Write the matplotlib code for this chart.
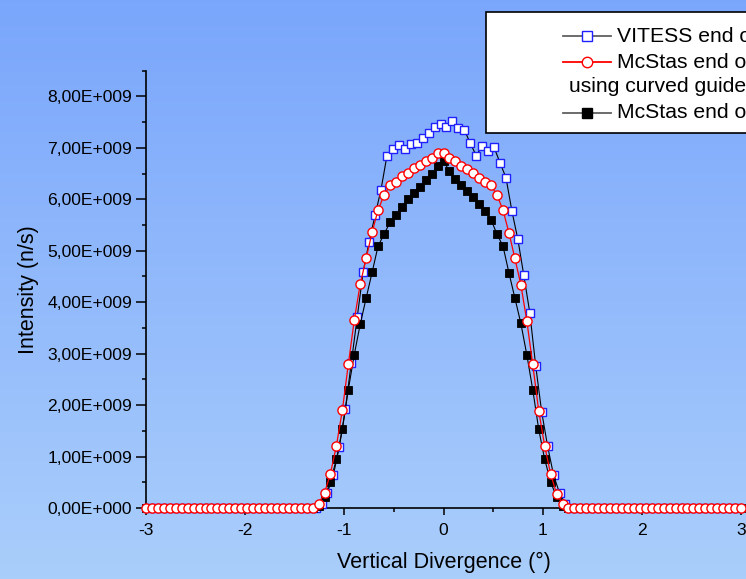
import numpy as np
import matplotlib
matplotlib.use("Agg")
import matplotlib.pyplot as plt
from matplotlib.ticker import MultipleLocator, FuncFormatter
from matplotlib.lines import Line2D
from matplotlib.patches import Rectangle

plt.rcParams['font.family'] = ['Liberation Sans', 'DejaVu Sans']

SCALE = 1e9  # intensities below are given in units of 1e9 n/s

# McStas runs: sampled at -3.00, -2.94, ..., 3.00 deg
x_mcstas = np.round(np.linspace(-3.0, 3.0, 101), 2)
# VITESS run: bin centres -2.97, -2.91, ..., 2.97 deg
x_vitess = np.round(np.linspace(-2.97, 2.97, 100), 2)

# VITESS end of guide, -1.23 ... 1.23 deg (zero outside)
vitess_core = [0.08, 0.30, 0.65, 1.19, 1.92, 2.82, 3.71, 4.59, 5.18, 5.69,
               6.19, 6.85, 6.97, 7.06, 6.98, 7.08, 7.10, 7.19, 7.28, 7.40,
               7.47, 7.40, 7.53, 7.38, 7.35, 7.09, 6.85, 7.03, 6.94, 7.01,
               6.71, 6.42, 5.77, 5.22, 4.52, 3.80, 2.76, 1.87, 1.20, 0.64,
               0.29, 0.08]
vitess = [0.0] * 29 + vitess_core + [0.0] * 29

# McStas end of guide, curved guide, -1.26 ... 1.20 deg (zero outside)
mcstas_curved_core = [0.08, 0.29, 0.67, 1.21, 1.90, 2.79, 3.65, 4.35, 4.85, 5.36,
                      5.79, 6.08, 6.27, 6.34, 6.45, 6.52, 6.60, 6.67, 6.74, 6.81,
                      6.90, 6.90, 6.81, 6.74, 6.65, 6.58, 6.51, 6.42, 6.34, 6.27,
                      6.08, 5.79, 5.35, 4.85, 4.34, 3.64, 2.79, 1.89, 1.21, 0.66,
                      0.28, 0.08]
mcstas_curved = [0.0] * 29 + mcstas_curved_core + [0.0] * 30

# McStas end of guide, -1.26 ... 1.20 deg (zero outside)
mcstas_core = [0.04, 0.21, 0.51, 0.95, 1.53, 2.30, 2.98, 3.57, 4.08, 4.58,
               5.09, 5.32, 5.55, 5.70, 5.86, 6.01, 6.13, 6.24, 6.37, 6.50,
               6.64, 6.74, 6.55, 6.40, 6.28, 6.17, 6.05, 5.91, 5.77, 5.60,
               5.32, 5.09, 4.57, 4.08, 3.59, 2.98, 2.30, 1.53, 0.95, 0.51,
               0.21, 0.04]
mcstas = [0.0] * 29 + mcstas_core + [0.0] * 30

labels = ["VITESS end of guide",
          "McStas end of guide",
          "using curved guides",
          "McStas end of guide"]

W, H = 746, 579
fig = plt.figure(figsize=(W / 100, H / 100), dpi=100)

# vertical blue gradient behind everything
bg = fig.add_axes([0, 0, 1, 1], zorder=-10)
top = np.array([0.478, 0.651, 0.988])
bot = np.array([0.667, 0.808, 0.984])
t = np.linspace(0, 1, 256)[:, None]
grad = top[None, :] * (1 - t) + bot[None, :] * t
bg.imshow(grad[:, None, :], aspect='auto', extent=[0, 1, 0, 1], interpolation='bilinear')
bg.axis('off')

def fx(px):
    return px / W

def fy(py):
    return 1 - py / H

ax = fig.add_axes([fx(146), fy(508), (741 - 146) / W, (508 - 70.7) / H])
ax.patch.set_alpha(0)

ax.plot(x_vitess, np.array(vitess) * SCALE, color='black', lw=0.8,
        marker='s', ms=5.8, mfc='white', mec='#1f1fff', mew=1.0,
        clip_on=False, zorder=3)
ax.plot(x_mcstas, np.array(mcstas) * SCALE, color='black', lw=0.8,
        marker='s', ms=6.0, mfc='black', mec='black', mew=0.6,
        clip_on=False, zorder=4)
ax.plot(x_mcstas, np.array(mcstas_curved) * SCALE, color='red', lw=0.9,
        marker='o', ms=6.6, mfc='white', mec='red', mew=1.0,
        clip_on=False, zorder=5)

ax.set_xlim(-3, 3)
ax.set_ylim(0, 8.5e9)
ax.xaxis.set_major_locator(MultipleLocator(1))
ax.xaxis.set_minor_locator(MultipleLocator(0.5))
ax.yaxis.set_major_locator(MultipleLocator(1e9))
ax.yaxis.set_minor_locator(MultipleLocator(0.5e9))

def sci_comma(v, pos):
    if v == 0:
        return "0,00E+000"
    e = int(np.floor(np.log10(abs(v))))
    m = v / 10 ** e
    return f"{m:.2f}E{e:+04d}".replace('.', ',')

def plain(v, pos):
    return f"{v:g}"

ax.yaxis.set_major_formatter(FuncFormatter(sci_comma))
ax.xaxis.set_major_formatter(FuncFormatter(plain))

for s in ('top', 'right'):
    ax.spines[s].set_visible(False)
for s in ('left', 'bottom'):
    ax.spines[s].set_linewidth(1.2)
    ax.spines[s].set_color('black')

ax.tick_params(which='both', direction='out', width=1.1, colors='black',
               labelsize=12.6)
ax.tick_params(axis='y', which='major', length=7, pad=3)
ax.tick_params(axis='x', which='major', length=5, pad=6)
ax.tick_params(which='minor', length=3)

ax.set_xlabel("Vertical Divergence (°)", fontsize=15.5, labelpad=10)
ax.set_ylabel("Intensity (n/s)", fontsize=15.5, labelpad=6)

# legend box, partly running past the right edge
fig.patches.append(Rectangle((fx(486), fy(133)), fx(800) - fx(486), fy(12) - fy(133),
                             transform=fig.transFigure, facecolor='white',
                             edgecolor='black', lw=1.2, zorder=5))

def handle(py, color, **mk):
    fig.add_artist(Line2D([fx(563), fx(611)], [fy(py), fy(py)], color=color,
                          lw=1.3, transform=fig.transFigure, zorder=6))
    fig.add_artist(Line2D([fx(587)], [fy(py)], linestyle='none',
                          transform=fig.transFigure, zorder=7, **mk))

handle(36, '#606060', marker='s', ms=6.5, mfc='white', mec='#1f1fff', mew=1.0)
handle(62, 'red', marker='o', ms=7.5, mfc='white', mec='red', mew=1.0)
handle(113, '#606060', marker='s', ms=7, mfc='black', mec='black')

fs_leg = 15.2
fig.text(fx(617), fy(36), labels[0], fontsize=fs_leg, va='center', ha='left', zorder=8)
fig.text(fx(617), fy(62), labels[1], fontsize=fs_leg, va='center', ha='left', zorder=8)
fig.text(fx(569), fy(87), labels[2], fontsize=fs_leg, va='center', ha='left', zorder=8)
fig.text(fx(617), fy(113), labels[3], fontsize=fs_leg, va='center', ha='left', zorder=8)

fig.savefig("out.png", dpi=100)
